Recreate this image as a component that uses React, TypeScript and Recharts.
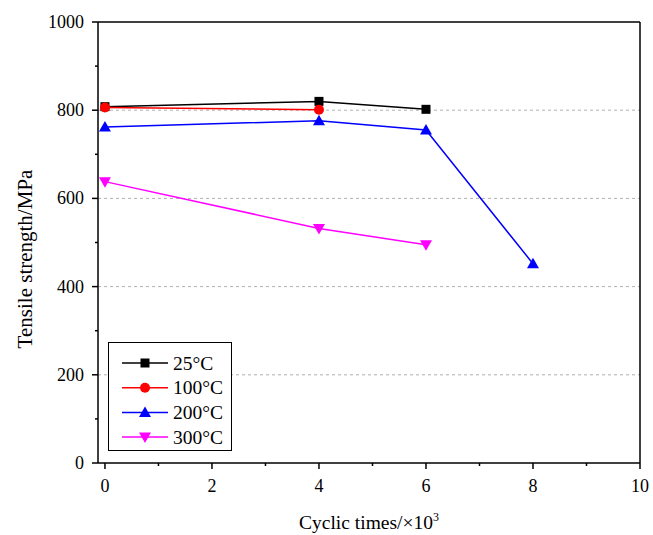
import { LineChart, Line, XAxis, YAxis, ReferenceLine } from 'recharts'

const cycles = [0, 4, 6, 8]
const strength25 = [808, 820, 802]
const strength100 = [806, 801]
const strength200 = [762, 776, 755, 452]
const strength300 = [638, 532, 495]

const xTicks = [0, 1, 2, 3, 4, 5, 6, 7, 8, 9, 10]
const yTicks = [0, 100, 200, 300, 400, 500, 600, 700, 800, 900, 1000]
const gridValues = [200, 400, 600, 800]

const FONT = '"Liberation Serif", "Times New Roman", serif'
const textStyle = { fontFamily: FONT }

const toPoints = (values: number[]) => values.map((v, i) => ({ x: cycles[i], y: v }))

const series = [
  { name: '25°C', color: '#000000', shape: 'square', data: toPoints(strength25) },
  { name: '100°C', color: '#ff0000', shape: 'circle', data: toPoints(strength100) },
  { name: '200°C', color: '#0000ff', shape: 'up', data: toPoints(strength200) },
  { name: '300°C', color: '#ff00ff', shape: 'down', data: toPoints(strength300) },
]

function Marker({ cx, cy, shape, color }: any) {
  if (cx == null || cy == null) return null
  if (shape === 'square') return <rect x={cx - 4.5} y={cy - 4.5} width={9} height={9} fill={color} />
  if (shape === 'circle') return <circle cx={cx} cy={cy} r={5} fill={color} />
  if (shape === 'up')
    return <polygon points={`${cx},${cy - 6} ${cx - 6},${cy + 4.5} ${cx + 6},${cy + 4.5}`} fill={color} />
  return <polygon points={`${cx},${cy + 6} ${cx - 6},${cy - 4.5} ${cx + 6},${cy - 4.5}`} fill={color} />
}

function XTick({ x, y, payload }: any) {
  const major = payload.value % 2 === 0
  return (
    <g>
      <line x1={x} y1={y} x2={x} y2={y + (major ? 6 : 3)} stroke="#000" strokeWidth={1.5} />
      {major && (
        <text x={x} y={y + 29} textAnchor="middle" fontSize={18} style={textStyle} fill="#000">
          {payload.value}
        </text>
      )}
    </g>
  )
}

function YTick({ x, y, payload }: any) {
  const major = payload.value % 200 === 0
  return (
    <g>
      <line x1={x} y1={y} x2={x - (major ? 6 : 3)} y2={y} stroke="#000" strokeWidth={1.5} />
      {major && (
        <text x={x - 14} y={y + 6} textAnchor="end" fontSize={18} style={textStyle} fill="#000">
          {payload.value}
        </text>
      )}
    </g>
  )
}

function LegendBox() {
  return (
    <svg width={124} height={109} style={{ display: 'block' }}>
      <rect x={0.5} y={0.5} width={123} height={108} fill="#fff" stroke="#000" strokeWidth={1} />
      {series.map((s, i) => {
        const cy = 21 + i * 24.7
        return (
          <g key={s.name}>
            <line x1={14} y1={cy} x2={60} y2={cy} stroke={s.color} strokeWidth={1.5} />
            <Marker cx={37} cy={cy} shape={s.shape} color={s.color} />
            <text x={65} y={cy + 6.5} fontSize={19.5} style={textStyle} fill="#000">
              {s.name}
            </text>
          </g>
        )
      })}
    </svg>
  )
}

export default function App() {
  return (
    <div style={{ position: 'absolute', left: 0, top: 0, width: 653, height: 535, background: '#fff' }}>
      <LineChart width={653} height={535} margin={{ top: 22, right: 13, bottom: 12, left: 38 }}>
        <XAxis
          type="number"
          dataKey="x"
          domain={[-0.13, 10]}
          ticks={xTicks}
          interval={0}
          tick={<XTick />}
          tickLine={false}
          tickSize={0}
          tickMargin={0}
          height={60}
          stroke="#000"
          strokeWidth={1.5}
          allowDataOverflow
          label={({ viewBox }: any) => (
            <text
              x={viewBox.x + viewBox.width / 2}
              y={529}
              textAnchor="middle"
              fontSize={19.5}
              style={textStyle}
              fill="#000"
            >
              Cyclic times/×10<tspan dy={-8} fontSize={12}>3</tspan>
            </text>
          )}
        />
        <YAxis
          type="number"
          dataKey="y"
          domain={[0, 1000]}
          ticks={yTicks}
          interval={0}
          tick={<YTick />}
          tickLine={false}
          tickSize={0}
          tickMargin={0}
          width={60}
          stroke="#000"
          strokeWidth={1.5}
          label={() => (
            <text
              x={32}
              y={259}
              transform="rotate(-90 32 259)"
              textAnchor="middle"
              fontSize={21}
              style={textStyle}
              fill="#000"
            >
              Tensile strength/MPa
            </text>
          )}
        />
        {gridValues.map((v) => (
          <ReferenceLine key={v} y={v} stroke="#b0b0b0" strokeDasharray="3 3" strokeWidth={1} />
        ))}
        <ReferenceLine y={1000} stroke="#000" strokeWidth={1.5} />
        <ReferenceLine x={10} stroke="#000" strokeWidth={1.5} />
        {series.map((s) => (
          <Line
            key={s.name}
            data={s.data}
            dataKey="y"
            name={s.name}
            stroke={s.color}
            strokeWidth={1.5}
            isAnimationActive={false}
            dot={(p: any) => <Marker key={`${s.name}-${p.index}`} cx={p.cx} cy={p.cy} shape={s.shape} color={s.color} />}
            activeDot={false}
          />
        ))}
      </LineChart>
      <div style={{ position: 'absolute', left: 108, top: 342 }}>
        <LegendBox />
      </div>
    </div>
  )
}
